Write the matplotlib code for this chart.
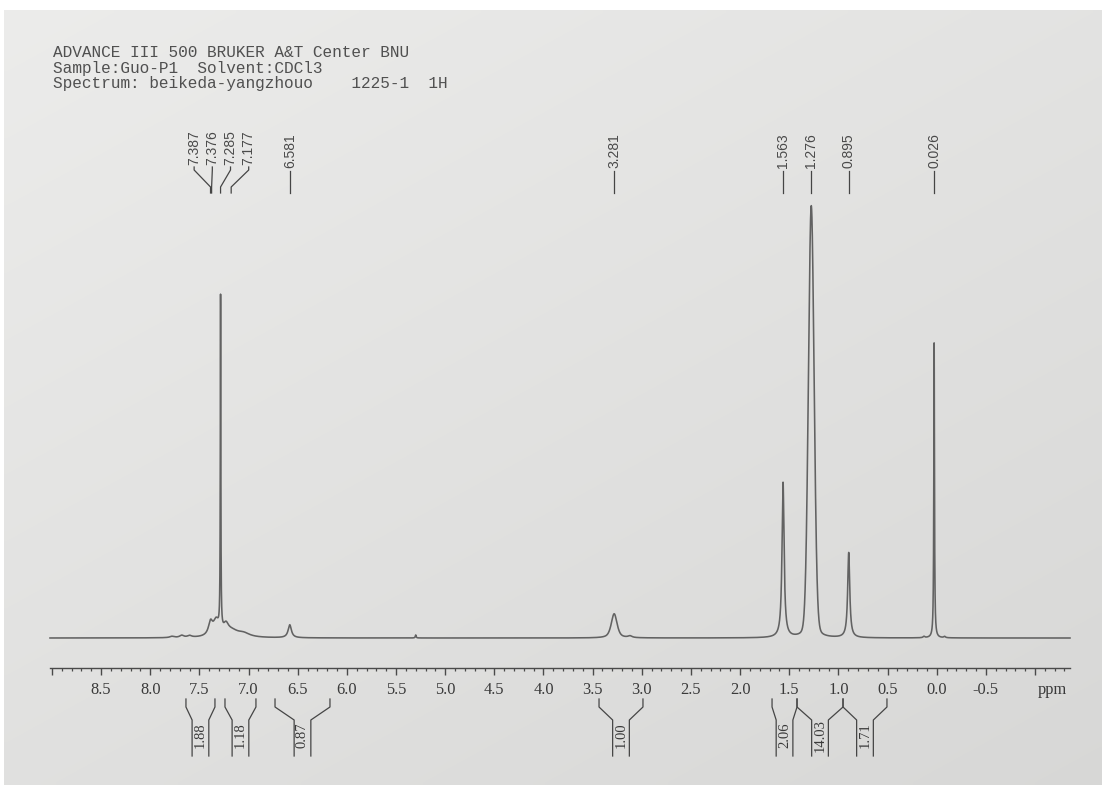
import numpy as np
import matplotlib
matplotlib.use("Agg")
import matplotlib.pyplot as plt
from matplotlib.transforms import blended_transform_factory
from matplotlib.ticker import FixedLocator, MultipleLocator, FuncFormatter

plt.rcParams["axes.unicode_minus"] = False

# ---------------- data ----------------
header_lines = [
    "ADVANCE III 500 BRUKER A&T Center BNU",
    "Sample:Guo-P1  Solvent:CDCl3",
    "Spectrum: beikeda-yangzhouo    1225-1  1H",
]

# spectrum signals: centre (ppm), relative height, FWHM (ppm), Lorentzian fraction
sig_center = [7.78, 7.68, 7.60, 7.387, 7.33, 7.285, 7.23, 7.177, 7.05, 6.581, 5.30,
              3.281, 3.12, 1.563, 1.276, 0.895, 0.13, 0.026, -0.08]
sig_height = [0.3, 0.5, 0.4, 3.0, 3.4, 77.0, 2.0, 1.5, 0.8, 3.0, 0.7,
              5.6, 0.4, 35.9, 100.0, 19.7, 0.3, 68.3, 0.3]
sig_width = [0.05, 0.05, 0.05, 0.05, 0.07, 0.006, 0.06, 0.18, 0.15, 0.04, 0.01,
             0.07, 0.05, 0.025, 0.068, 0.025, 0.02, 0.008, 0.02]
sig_eta = [1, 1, 1, 1, 1, 1, 1, 1, 1, 1, 1,
           0.6, 1, 1, 0.12, 1, 1, 1, 1]

# peak picking labels
group_peaks = [7.387, 7.376, 7.285, 7.177]
single_peaks = [6.581, 3.281, 1.563, 1.276, 0.895, 0.026]

# integrals
int_left = [7.637, 7.240, 6.731, 3.435, 1.675, 1.421, 0.953]
int_right = [7.342, 6.925, 6.172, 2.988, 1.421, 0.953, 0.506]
int_values = ["1.88", "1.18", "0.87", "1.00", "2.06", "14.03", "1.71"]

major_ticks = [9.0, 8.5, 8.0, 7.5, 7.0, 6.5, 6.0, 5.5, 5.0, 4.5, 4.0, 3.5,
               3.0, 2.5, 2.0, 1.5, 1.0, 0.5, 0.0, -0.5, -1.0]
unlabeled_ticks = [9.0, -1.0]

# ---------------- figure ----------------
W, H = 1102, 785
fig = plt.figure(figsize=(W / 100, H / 100), dpi=100)
fig.patch.set_facecolor("white")

def fy(p):
    return 1 - p / H

# paper background
bg = fig.add_axes([4 / W, 0, 1 - 4 / W, fy(10)], zorder=-10)
gx, gy = np.meshgrid(np.linspace(0, 1, 200), np.linspace(0, 1, 150))
g = 0.925 - 0.035 * gx - 0.045 * gy
img = np.dstack([g, g, g * 0.995])
bg.imshow(img, aspect="auto", extent=[0, 1, 0, 1], interpolation="bilinear")
bg.set_axis_off()

ink = "#454545"
serif = "Liberation Serif"
sans = "Liberation Sans"
mono = "Liberation Mono"

# header
for i, line in enumerate(header_lines):
    fig.text(53 / W, fy(57 + 15.7 * i), line, family=mono, fontsize=11.6,
             color="#505050", va="baseline", ha="left")

# spectrum axes
ax = fig.add_axes([50 / W, fy(668), 1020 / W, 468 / H])
ax.patch.set_alpha(0)
xmin, xmax = 9.02, -1.356
ax.set_xlim(xmin, xmax)
ax.set_ylim(-6.94, 101.4)

x = np.linspace(xmin, xmax, 80000)
y = np.zeros_like(x)
for c, h, w, eta in zip(sig_center, sig_height, sig_width, sig_eta):
    lor = 1.0 / (1.0 + (2 * (x - c) / w) ** 2)
    gau = np.exp(-4 * np.log(2) * ((x - c) / w) ** 2)
    y += h * (eta * lor + (1 - eta) * gau)
ax.plot(x, y, color="#626262", lw=1.15, clip_on=False)

for s in ["top", "left", "right"]:
    ax.spines[s].set_visible(False)
ax.spines["bottom"].set_color("#4a4a4a")
ax.spines["bottom"].set_linewidth(1.0)
ax.set_yticks([])
ax.xaxis.set_major_locator(FixedLocator(major_ticks))
ax.xaxis.set_minor_locator(MultipleLocator(0.1))
ax.xaxis.set_major_formatter(FuncFormatter(
    lambda v, p: "" if any(abs(v - u) < 1e-6 for u in unlabeled_ticks) else f"{v:.1f}"))
ax.tick_params(axis="x", which="major", direction="out", length=5, width=1.0,
               color="#4a4a4a", pad=5, labelsize=11.8, labelcolor="#3a3a3a")
ax.tick_params(axis="x", which="minor", direction="out", length=2.5, width=0.9,
               color="#4a4a4a")
for lab in ax.get_xticklabels():
    lab.set_family(serif)

tr = blended_transform_factory(ax.transData, fig.transFigure)
ax.text(-1.18, fy(690), "ppm", transform=tr, family=serif, fontsize=11.8,
        color="#3a3a3a", ha="center", va="center")

# peak labels
lkw = dict(color=ink, lw=0.9, transform=tr, clip_on=False)
tkw = dict(family=sans, fontsize=10, color="#4a4a4a", rotation=90,
           ha="center", va="bottom", transform=tr)
for p in single_peaks:
    ax.plot([p, p], [fy(171), fy(193)], **lkw)
    ax.text(p, fy(168), f"{p:.3f}", **tkw)

spread = 0.185
gc = np.mean(group_peaks) - 0.03
n = len(group_peaks)
for i, p in enumerate(group_peaks):
    lx = gc + spread * ((n - 1) / 2 - i)
    ax.plot([lx, lx, p, p], [fy(167), fy(170), fy(187), fy(193)], **lkw)
    ax.text(lx, fy(165), f"{p:.3f}", **tkw)

# integrals
hw = 0.085
for xl, xr, val in zip(int_left, int_right, int_values):
    c = (xl + xr) / 2
    ax.plot([xl, xl, c + hw, c + hw], [fy(699), fy(707), fy(720), fy(756)], **lkw)
    ax.plot([xr, xr, c - hw, c - hw], [fy(699), fy(707), fy(720), fy(756)], **lkw)
    ax.text(c, fy(735), val, family=serif, fontsize=10.5, color="#3a3a3a",
            rotation=90, ha="center", va="center", transform=tr)

fig.savefig("out.png", dpi=100, facecolor=fig.get_facecolor())
